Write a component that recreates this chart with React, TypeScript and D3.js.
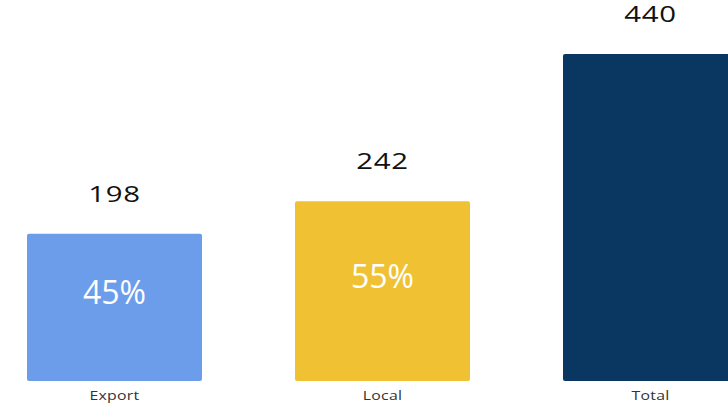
import React from "react";
import * as d3 from "d3";

const categories = ["Export", "Local", "Total"];
const values = [198, 242, 440];
const percentLabels = ["45%", "55%", ""];
const colors = ["#6C9DEB", "#F0C233", "#0A3761"];

const W = 728;
const H = 406;

export default function App() {
  const x = d3.scaleBand<string>().domain(categories).range([27, 738]).paddingInner(0.347).paddingOuter(0);
  const y = d3.scaleLinear().domain([0, 440]).range([381, 54]);
  const font = "'Open Sans', 'Noto Sans', sans-serif";
  return (
    <svg width={W} height={H} style={{ position: "absolute", left: 0, top: 0, background: "#fff" }}>
      {categories.map((c, i) => {
        const bx = x(c)!;
        const bw = x.bandwidth();
        const cx = bx + bw / 2;
        const top = y(values[i]);
        const mid = y(values[i] / 2);
        return (
          <g key={c}>
            <rect x={bx} y={top} width={bw} height={y(0) - top} rx={2} fill={colors[i]} />
            <g transform={`translate(${cx},${top - 32}) scale(1.4,1)`}>
              <text x={0} y={0} textAnchor="middle" fontFamily={font} fontSize={21} letterSpacing={0.5} fill="#111">
                {values[i]}
              </text>
            </g>
            {percentLabels[i] && (
              <text x={cx} y={mid - 3} textAnchor="middle" fontFamily={font} fontSize={32} fill="#fff">
                {percentLabels[i]}
              </text>
            )}
            <g transform={`translate(${cx},400) scale(1.22,1)`}>
              <text x={0} y={0} textAnchor="middle" fontFamily={font} fontSize={13} letterSpacing={0.2} fill="#333">
                {c}
              </text>
            </g>
          </g>
        );
      })}
    </svg>
  );
}
